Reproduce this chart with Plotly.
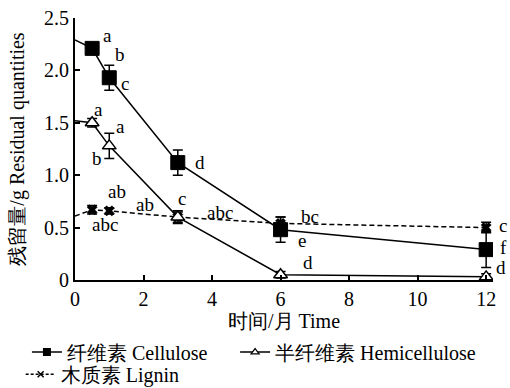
import plotly.graph_objects as go

# ---- data ----
time_months = [0, 0.5, 1, 3, 6, 12]
cellulose = [2.29, 2.21, 1.93, 1.12, 0.48, 0.29]
cellulose_err = [0, 0.03, 0.12, 0.12, 0.12, 0.17]
hemicellulose = [1.52, 1.50, 1.28, 0.60, 0.05, 0.03]
hemicellulose_err = [0, 0.04, 0.12, 0.05, 0.03, 0.03]
lignin = [0.61, 0.67, 0.66, 0.60, 0.54, 0.50]
lignin_err = [0, 0.04, 0.03, 0.06, 0.06, 0.05]

x_ticks = [0, 2, 4, 6, 8, 10, 12]
y_ticks = [0, 0.5, 1.0, 1.5, 2.0, 2.5]
y_ticktext = ["0", "0.5", "1.0", "1.5", "2.0", "2.5"]

# significance letters: (series, point index, text, dx px, dy px)
letters = [
    ("cel", 1, "a", 15, 13), ("cel", 2, "b", 11, 23), ("cel", 2, "c", 16, -6),
    ("cel", 3, "d", 22, 0), ("cel", 4, "e", 21, -11), ("cel", 5, "f", 17, 2),
    ("hem", 1, "a", 6, 13), ("hem", 2, "a", 11, 19), ("hem", 2, "b", -12, -13),
    ("hem", 3, "c", 4, 19), ("hem", 4, "d", 27, 12), ("hem", 5, "d", 15, 9),
    ("lig", 1, "abc", 13, -15), ("lig", 2, "ab", 8, 19), ("lig", 2, "ab", 36, 6),
    ("lig", 3, "abc", 42, 5), ("lig", 4, "bc", 29, 7), ("lig", 5, "c", 17, 2),
]

SERIF = "Liberation Serif"
FS = 20

series = {
    "cel": dict(y=cellulose, err=cellulose_err, name="纤维素 Cellulose", dash="solid",
                legend="legend",
                marker=dict(symbol="square", size=14, color="black",
                            line=dict(color="black", width=1)),
                lmarker=dict(symbol="square", size=8, color="black")),
    "hem": dict(y=hemicellulose, err=hemicellulose_err, name="半纤维素 Hemicellulose", dash="solid",
                legend="legend3",
                marker=dict(symbol="triangle-up", size=12, color="white",
                            line=dict(color="black", width=1.5)),
                lmarker=dict(symbol="triangle-up", size=7, color="white",
                             line=dict(color="black", width=1.2))),
    "lig": dict(y=lignin, err=lignin_err, name="木质素 Lignin", dash="dash",
                legend="legend2",
                marker=dict(symbol="x", size=9, color="black",
                            line=dict(color="black", width=0.5)),
                lmarker=dict(symbol="x-thin", size=6, color="black",
                             line=dict(color="black", width=1.5))),
}

fig = go.Figure()

for key, s in series.items():
    fig.add_trace(go.Scatter(
        x=time_months, y=s["y"], mode="lines",
        line=dict(color="black", width=1.5, dash="5px,3px" if s["dash"] == "dash" else "solid"),
        showlegend=False, hoverinfo="skip"))

for key in ["lig", "hem", "cel"]:
    s = series[key]
    fig.add_trace(go.Scatter(
        x=time_months[1:], y=s["y"][1:], mode="markers",
        marker=s["marker"],
        error_y=dict(type="data", array=s["err"][1:], visible=True,
                     color="black", thickness=1.5, width=5),
        showlegend=False))

for key in ["cel", "hem", "lig"]:
    s = series[key]
    fig.add_trace(go.Scatter(
        x=[None], y=[None], mode="lines+markers", name=s["name"], legend=s["legend"],
        line=dict(color="black", width=1.5, dash="3px,2px" if s["dash"] == "dash" else "solid"),
        marker=s["lmarker"]))

for key, idx, text, dx, dy in letters:
    s = series[key]
    fig.add_annotation(x=time_months[idx], y=s["y"][idx], text=text,
                       xshift=dx, yshift=dy, showarrow=False,
                       font=dict(family=SERIF, size=19, color="black"))

legend_style = dict(orientation="h", xanchor="left", yanchor="middle",
                    font=dict(family=SERIF, size=FS, color="black"),
                    bgcolor="rgba(0,0,0,0)", tracegroupgap=0)

fig.update_layout(
    width=510, height=388,
    margin=dict(l=75, r=17, t=18, b=108, autoexpand=False),
    paper_bgcolor="white", plot_bgcolor="white",
    font=dict(family=SERIF, size=FS, color="black"),
    xaxis=dict(range=[0, 12.2], tickvals=x_ticks, ticks="inside", ticklen=5,
               tickwidth=1.5, tickcolor="black", showline=True, linecolor="black",
               linewidth=2, showgrid=False, zeroline=False, automargin=False,
               tickfont=dict(family=SERIF, size=FS, color="black"),
               title=dict(text="时间/月 Time", font=dict(family=SERIF, size=FS, color="black"),
                          standoff=2)),
    yaxis=dict(range=[0, 2.5], tickvals=y_ticks, ticktext=y_ticktext, ticks="inside",
               ticklen=5, tickwidth=1.5, tickcolor="black", showline=True,
               linecolor="black", linewidth=2, showgrid=False, zeroline=False,
               automargin=False,
               tickfont=dict(family=SERIF, size=FS, color="black"),
               title=dict(text="残留量/g Residual quantities",
                          font=dict(family=SERIF, size=FS, color="black"), standoff=14)),
    legend=dict(x=-0.115, y=-0.275, **legend_style),
    legend3=dict(x=0.383, y=-0.275, **legend_style),
    legend2=dict(x=-0.13, y=-0.36, **legend_style),
    showlegend=True,
)

fig.write_html("out.html", config={"displayModeBar": False},
               post_script="document.body.style.margin='0';document.body.style.overflow='hidden';")
